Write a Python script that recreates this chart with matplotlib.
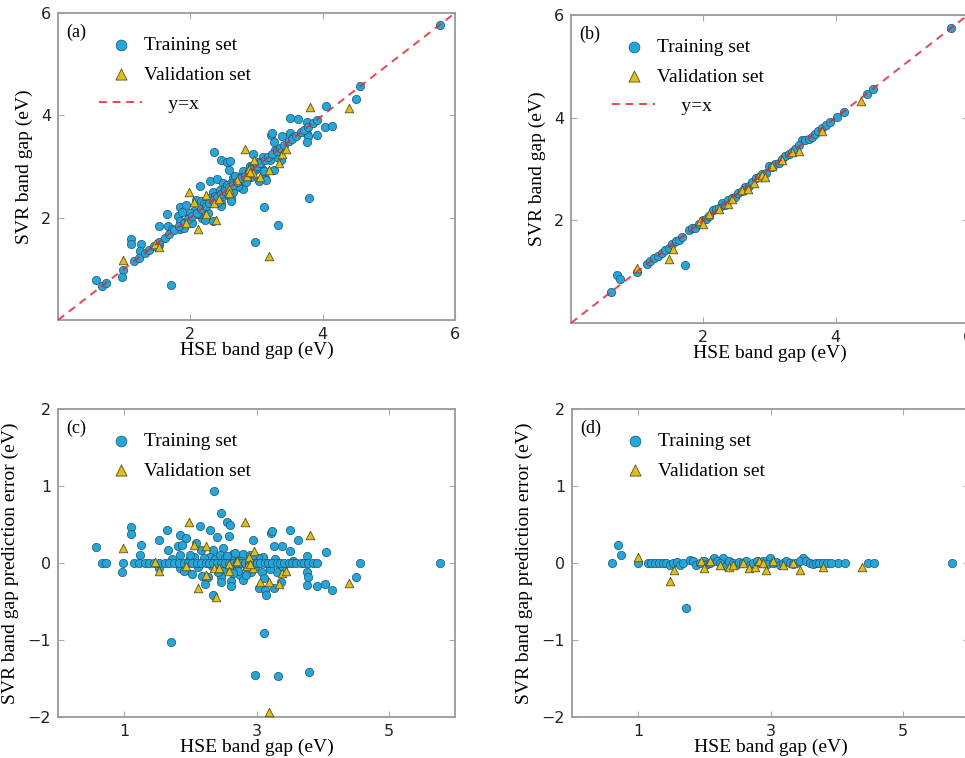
import matplotlib
matplotlib.use("Agg")
import matplotlib.pyplot as plt
import numpy as np

# --- Data: panel (a)/(c), model 1 (HSE gap, prediction error) ---
train1_hse = [0.57, 0.67, 0.72, 0.98, 0.96, 1.11, 1.11, 1.26, 1.24, 1.53,
              1.65, 1.66, 1.53, 1.84, 1.82, 1.93, 1.88, 1.84, 1.84, 2.14,
              2.09, 2.29, 2.16, 2.03, 2.17, 2.22, 2.27, 2.36, 2.47, 2.55,
              2.60, 2.41, 2.58, 2.34, 2.49, 2.35, 2.47, 2.47, 2.61, 2.62,
              2.75, 2.79, 2.92, 2.95, 3.10, 3.22, 3.23, 3.26, 3.38, 3.51,
              3.62, 3.50, 3.77, 4.05, 3.04, 3.13, 3.15, 3.26, 3.37, 3.31,
              3.76, 3.78, 3.76, 3.92, 4.04, 4.14, 4.50, 4.57, 5.77, 1.71,
              3.11, 2.98, 3.32, 3.79,
              # near-zero cluster
              2.30, 2.38, 2.45, 2.52, 2.56, 2.65, 2.70, 2.74, 2.80, 2.86,
              2.90, 2.98, 3.02, 3.08, 3.12, 3.20, 2.20, 2.12, 2.05, 1.98,
              2.42, 2.50, 2.62, 2.68, 2.84, 2.88, 3.28, 3.40, 3.55, 1.72,
              1.90, 2.00, 2.33, 2.55, 2.72, 2.93, 2.64, 2.77,
              # on the y=x line
              1.15, 1.22, 1.31, 1.37, 1.45, 1.52, 1.61, 1.68, 1.75, 1.83,
              1.90, 1.97, 2.03, 2.10, 2.16, 2.23, 2.28, 2.34, 2.41, 2.46,
              2.52, 2.59, 2.64, 2.70, 2.77, 2.82, 2.88, 2.95, 3.00, 3.06,
              3.13, 3.18, 3.24, 3.31, 3.36, 3.42, 3.49, 3.54, 3.60, 3.67,
              3.72, 3.78, 3.85, 3.91]
train1_err = [0.21, 0.00, 0.00, 0.00, -0.12, 0.47, 0.38, 0.23, 0.11, 0.30,
              0.43, 0.17, -0.07, 0.37, 0.22, 0.32, 0.23, 0.10, -0.07, 0.48,
              0.26, 0.43, 0.17, -0.14, -0.17, -0.27, -0.18, 0.93, 0.65, 0.53,
              0.50, 0.34, 0.35, 0.17, 0.19, -0.42, -0.18, -0.25, -0.23, -0.30,
              -0.16, -0.22, -0.12, 0.30, 0.08, 0.39, 0.42, 0.22, 0.22, 0.43,
              0.30, 0.15, 0.09, 0.14, -0.33, -0.35, -0.42, -0.33, -0.25, -0.12,
              -0.12, -0.18, -0.29, -0.30, -0.27, -0.35, -0.18, 0.00, 0.00, -1.02,
              -0.91, -1.45, -1.47, -1.41,
              0.08, 0.05, 0.10, 0.06, -0.05, 0.12, -0.08, 0.06, 0.12, -0.06,
              0.10, -0.05, 0.06, -0.12, -0.20, -0.08, 0.06, -0.05, 0.08, 0.04,
              -0.12, -0.08, 0.05, 0.13, -0.15, 0.03, 0.05, -0.05, 0.02, 0.05,
              -0.10, 0.10, -0.04, 0.09, -0.11, 0.07, -0.13, 0.02,
              0.00, 0.00, 0.00, 0.00, 0.00, 0.00, 0.00, 0.00, 0.00, 0.00,
              0.00, 0.00, 0.00, 0.00, 0.00, 0.00, 0.00, 0.00, 0.00, 0.00,
              0.00, 0.00, 0.00, 0.00, 0.00, 0.00, 0.00, 0.00, 0.00, 0.00,
              0.00, 0.00, 0.00, 0.00, 0.00, 0.00, 0.00, 0.00, 0.00, 0.00,
              0.00, 0.00, 0.00, 0.00]
valid1_hse = [0.98, 1.47, 1.53, 1.98, 1.94, 2.06, 2.11, 2.23, 2.23, 2.39,
              2.36, 2.44, 2.58, 2.59, 2.71, 2.82, 2.85, 2.88, 2.96, 2.95,
              3.05, 3.19, 3.34, 3.38, 3.45, 3.81, 4.40, 3.19, 2.90]
valid1_err = [0.20, 0.01, -0.10, 0.53, -0.04, 0.24, -0.33, 0.22, -0.15, -0.44,
              -0.07, -0.07, -0.01, -0.10, 0.03, 0.53, -0.04, 0.08, 0.16, -0.07,
              -0.25, -0.25, -0.27, -0.13, -0.10, 0.36, -0.26, -1.93, -0.01]

# --- Data: panel (b)/(d), model 2 ---
train2_hse = [0.60, 0.70, 0.74, 0.99, 1.72, 2.14, 2.28, 2.99, 3.49,
              4.02, 4.12, 4.47, 4.56, 5.74,
              1.15, 1.20, 1.26, 1.31, 1.37, 1.42, 1.48, 1.53, 1.58, 1.63,
              1.68, 1.78, 1.83, 1.88, 1.93, 1.99, 2.04, 2.09, 2.19, 2.24,
              2.33, 2.38, 2.43, 2.48, 2.53, 2.58, 2.63, 2.69, 2.74, 2.79,
              2.84, 2.89, 2.94, 3.04, 3.09, 3.14, 3.19, 3.24, 3.29, 3.34,
              3.39, 3.44, 3.54, 3.59, 3.64, 3.69, 3.74, 3.79, 3.85, 3.91]
train2_err = [0.00, 0.23, 0.11, 0.00, -0.59, 0.06, 0.06, 0.07, 0.07,
              0.00, 0.00, 0.00, 0.00, 0.00,
              0.00, 0.00, 0.00, 0.00, 0.00, 0.00, -0.02, 0.00, 0.01, -0.02,
              0.00, 0.04, 0.02, -0.03, 0.00, 0.02, -0.01, 0.00, 0.03, 0.00,
              -0.04, 0.02, 0.00, -0.03, 0.01, 0.00, 0.02, -0.02, 0.00, 0.03,
              0.00, 0.02, -0.01, 0.00, 0.01, -0.02, 0.00, 0.02, 0.00, -0.01,
              0.00, 0.03, 0.02, 0.00, -0.01, 0.00, 0.00, 0.00, 0.00, 0.00]
valid2_hse = [1.00, 1.48, 1.54, 1.95, 1.99, 2.09, 2.24, 2.37, 2.44, 2.59,
              2.68, 2.77, 2.82, 2.89, 2.93, 3.04, 3.19, 3.34, 3.45, 3.80, 4.38]
valid2_err = [0.08, -0.24, -0.09, 0.03, -0.06, 0.03, -0.02, -0.05, -0.03, 0.00,
              -0.06, -0.05, 0.03, 0.00, -0.09, 0.02, -0.02, 0.00, -0.09, -0.05, -0.05]

panel_labels = ["(a)", "(b)", "(c)", "(d)"]

# --- Style ---
serif = ["Liberation Serif", "DejaVu Serif"]
circle_color = "#1fa8de"
circle_edge = "#2b4f66"
tri_color = "#e3bd12"
tri_edge = "#5a5020"
spine_color = "#9a9a9a"

fig = plt.figure(figsize=(9.65, 7.58), dpi=100)
W, H = 965.0, 758.0


def make_axes(left, top, right, bottom):
    return fig.add_axes([left / W, 1 - bottom / H, (right - left) / W, (bottom - top) / H])


ax_a = make_axes(58, 13, 455, 320)
ax_b = make_axes(571, 15, 968, 323)
ax_c = make_axes(58, 409, 455, 717)
ax_d = make_axes(572, 409, 969, 717)


def style_axes(ax):
    for s in ax.spines.values():
        s.set_color(spine_color)
        s.set_linewidth(1.3)
    ax.tick_params(direction="in", length=4, width=0.8, color="#aaaaaa",
                   top=True, right=True, labelsize=11.5, labelcolor="#222222", pad=5)


def scatter_pair(ax, th, ty, vh, vy):
    ax.scatter(th, ty, s=36, c=circle_color, edgecolors=circle_edge, linewidths=0.5,
               label="Training set", zorder=3)
    ax.scatter(vh, vy, s=38, c=tri_color, marker="^", edgecolors=tri_edge, linewidths=0.6,
               label="Validation set", zorder=4)


def add_legend(ax):
    ax.legend(loc="upper left", bbox_to_anchor=(0.06, 0.98), frameon=False,
              scatterpoints=1, markerscale=1.3, handlelength=2.2,
              handletextpad=0.1, labelspacing=0.6, prop={"family": serif, "size": 14})


# top row: predicted vs HSE
for ax, th, te, vh, ve, lab in [(ax_a, train1_hse, train1_err, valid1_hse, valid1_err, panel_labels[0]),
                                (ax_b, train2_hse, train2_err, valid2_hse, valid2_err, panel_labels[1])]:
    th = np.array(th)
    vh = np.array(vh)
    scatter_pair(ax, th, th + np.array(te), vh, vh + np.array(ve))
    ax.plot([0, 6], [0, 6], ls="--", color="#e8262a", lw=1.4, dashes=(4, 3),
            label="     y=x", zorder=5, alpha=0.85)
    ax.set_xlim(0, 6)
    ax.set_ylim(0, 6)
    ax.set_xticks([2, 4, 6])
    ax.set_yticks([2, 4, 6])
    style_axes(ax)
    ax.set_xlabel("HSE band gap (eV)", family=serif, fontsize=14, labelpad=0)
    ax.set_ylabel("SVR band gap (eV)", family=serif, fontsize=14, labelpad=6)
    ax.text(0.02, 0.965, lab, transform=ax.transAxes, va="top", ha="left",
            family=serif, fontsize=13)
    add_legend(ax)

# bottom row: prediction error
for ax, th, te, vh, ve, lab in [(ax_c, train1_hse, train1_err, valid1_hse, valid1_err, panel_labels[2]),
                                (ax_d, train2_hse, train2_err, valid2_hse, valid2_err, panel_labels[3])]:
    scatter_pair(ax, th, te, vh, ve)
    ax.set_xlim(0, 6)
    ax.set_ylim(-2, 2)
    ax.set_xticks([1, 3, 5])
    ax.set_yticks([-2, -1, 0, 1, 2])
    style_axes(ax)
    ax.set_xlabel("HSE band gap (eV)", family=serif, fontsize=14, labelpad=0)
    ax.set_ylabel("SVR band gap prediction error (eV)", family=serif, fontsize=14, labelpad=6)
    ax.text(0.02, 0.965, lab, transform=ax.transAxes, va="top", ha="left",
            family=serif, fontsize=13)
    add_legend(ax)

fig.savefig("out.png", dpi=100)
